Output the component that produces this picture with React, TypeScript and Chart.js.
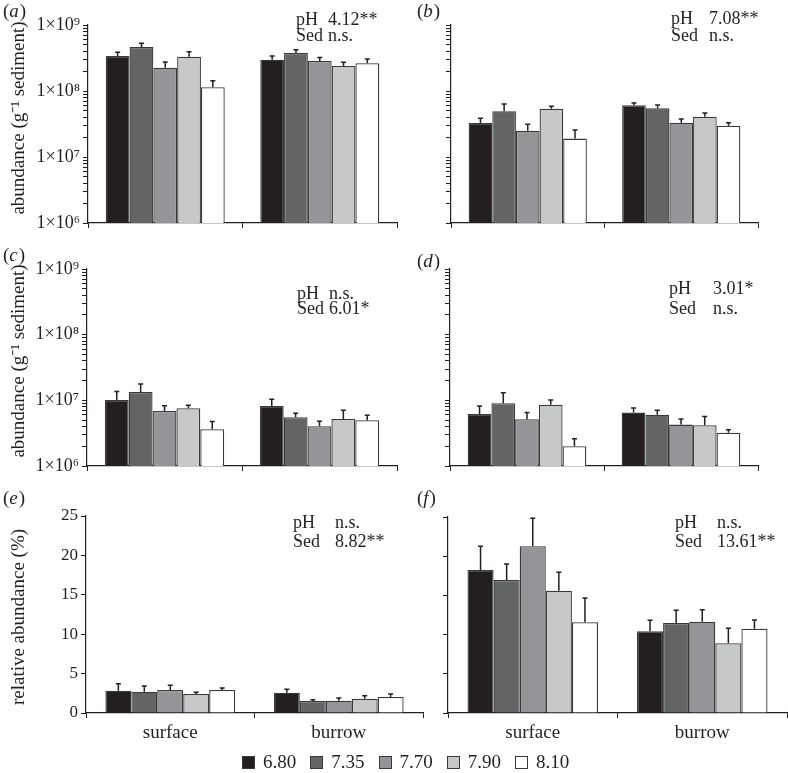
import React, { useEffect, useRef } from 'react';
import { Chart, registerables } from 'chart.js';

Chart.register(...registerables);

const FONT = '"Liberation Serif", "Times New Roman", serif';
const INK = '#231f20';

// ---------- data ----------
const categories = ['surface', 'burrow'];
const phLevels = ['6.80', '7.35', '7.70', '7.90', '8.10'];
const seriesColors = ['#231f20', '#636466', '#939598', '#c7c8ca', '#ffffff'];
const factors = ['pH', 'Sed'];

// (a) abundance, log scale (values per pH level)
const aSurface = [3.4e8, 4.64e8, 2.26e8, 3.3e8, 1.14e8];
const aBurrow = [2.98e8, 3.77e8, 2.85e8, 2.39e8, 2.63e8];
const aSurfaceSE = [0.46e8, 0.63e8, 0.49e8, 0.64e8, 0.29e8];
const aBurrowSE = [0.42e8, 0.45e8, 0.38e8, 0.33e8, 0.42e8];
const aStats = ['4.12**', 'n.s.'];

// (b)
const bSurface = [3.27e7, 4.92e7, 2.5e7, 5.4e7, 1.9e7];
const bBurrow = [6.07e7, 5.46e7, 3.31e7, 4.08e7, 2.98e7];
const bSurfaceSE = [0.59e7, 1.43e7, 0.63e7, 0.46e7, 0.66e7];
const bBurrowSE = [0.53e7, 0.68e7, 0.46e7, 0.56e7, 0.33e7];
const bStats = ['7.08**', 'n.s.'];

// (c)
const cSurface = [1.01e7, 1.34e7, 6.9e6, 7.59e6, 3.63e6];
const cBurrow = [8.2e6, 5.53e6, 4.03e6, 5.21e6, 4.98e6];
const cSurfaceSE = [3.5e6, 4.4e6, 1.4e6, 0.81e6, 1.11e6];
const cBurrowSE = [2.2e6, 0.84e6, 0.78e6, 1.86e6, 0.95e6];
const cStats = ['n.s.', '6.01*'];

// (d)
const dSurface = [6.2e6, 9.04e6, 5.15e6, 8.6e6, 2.0e6];
const dBurrow = [6.5e6, 6.05e6, 4.27e6, 4.18e6, 3.22e6];
const dSurfaceSE = [2.0e6, 4.06e6, 1.35e6, 1.5e6, 0.61e6];
const dBurrowSE = [1.16e6, 1.02e6, 0.94e6, 1.47e6, 0.33e6];
const dStats = ['3.01*', 'n.s.'];

// (e) relative abundance (%)
const eSurface = [2.83, 2.7, 2.92, 2.41, 2.92];
const eBurrow = [2.58, 1.52, 1.56, 1.82, 2.03];
const eSurfaceSE = [0.89, 0.73, 0.59, 0.22, 0.25];
const eBurrowSE = [0.42, 0.17, 0.34, 0.38, 0.38];
const eStats = ['n.s.', '8.82**'];

// (f)
const fSurface = [18.24, 16.96, 21.26, 15.6, 11.57];
const fBurrow = [10.42, 11.48, 11.65, 8.89, 10.75];
const fSurfaceSE = [3.02, 2.04, 3.57, 2.35, 3.1];
const fBurrowSE = [1.4, 1.62, 1.53, 1.91, 1.11];
const fStats = ['n.s.', '13.61**'];

const logMin = 1e6;
const logMax = 1e9;
const pctMin = 0;
const pctMax = 25;
const pctStep = 5;

const abundanceTitle = 'abundance (g\u207B\u00B9 sediment)';
const relativeTitle = 'relative abundance (%)';

// ---------- layout ----------
type Panel = {
  label: string;
  left: number; top: number; width: number; height: number;
  plotLeft: number; plotTop: number; rightPad: number; xAxisHeight: number;
  log: boolean; yLabels: boolean; xLabels: boolean;
  surface: number[]; burrow: number[]; surfaceSE: number[]; burrowSE: number[];
  stats: string[];
  statX: [number, number]; statY: [number, number];
  labelPos: [number, number];
  yTitle?: string; yTitlePos?: [number, number];
};

const panels: Panel[] = [
  {
    label: 'a', left: 0, top: 0, width: 400, height: 240,
    plotLeft: 88, plotTop: 25, rightPad: 3, xAxisHeight: 17,
    log: true, yLabels: true, xLabels: false,
    surface: aSurface, burrow: aBurrow, surfaceSE: aSurfaceSE, burrowSE: aBurrowSE,
    stats: aStats, statX: [296, 328], statY: [25, 41], labelPos: [3, 17],
    yTitle: abundanceTitle, yTitlePos: [19, 118],
  },
  {
    label: 'b', left: 400, top: 0, width: 388, height: 240,
    plotLeft: 51, plotTop: 25, rightPad: 30, xAxisHeight: 17,
    log: true, yLabels: false, xLabels: false,
    surface: bSurface, burrow: bBurrow, surfaceSE: bSurfaceSE, burrowSE: bBurrowSE,
    stats: bStats, statX: [271, 309], statY: [24, 41], labelPos: [17, 17],
  },
  {
    label: 'c', left: 0, top: 240, width: 400, height: 240,
    plotLeft: 87, plotTop: 29, rightPad: 3, xAxisHeight: 14,
    log: true, yLabels: true, xLabels: false,
    surface: cSurface, burrow: cBurrow, surfaceSE: cSurfaceSE, burrowSE: cBurrowSE,
    stats: cStats, statX: [297, 329], statY: [59, 74], labelPos: [3, 21],
    yTitle: abundanceTitle, yTitlePos: [19, 121],
  },
  {
    label: 'd', left: 400, top: 240, width: 388, height: 240,
    plotLeft: 50, plotTop: 29, rightPad: 30, xAxisHeight: 14,
    log: true, yLabels: false, xLabels: false,
    surface: dSurface, burrow: dBurrow, surfaceSE: dSurfaceSE, burrowSE: dBurrowSE,
    stats: dStats, statX: [269, 313], statY: [54, 74], labelPos: [17, 27],
  },
  {
    label: 'e', left: 0, top: 480, width: 440, height: 293,
    plotLeft: 86, plotTop: 36, rightPad: 17, xAxisHeight: 60,
    log: false, yLabels: true, xLabels: true,
    surface: eSurface, burrow: eBurrow, surfaceSE: eSurfaceSE, burrowSE: eBurrowSE,
    stats: eStats, statX: [293, 335], statY: [48, 67], labelPos: [3, 24],
    yTitle: relativeTitle, yTitlePos: [19, 137],
  },
  {
    label: 'f', left: 400, top: 480, width: 388, height: 293,
    plotLeft: 48, plotTop: 37, rightPad: 1, xAxisHeight: 60,
    log: false, yLabels: false, xLabels: true,
    surface: fSurface, burrow: fBurrow, surfaceSE: fSurfaceSE, burrowSE: fBurrowSE,
    stats: fStats, statX: [275, 317], statY: [48, 67], labelPos: [17, 24],
  },
];

const SUP = '\u2070\u00B9\u00B2\u00B3\u2074\u2075\u2076\u2077\u2078\u2079';

function errorBarsPlugin(se: number[][]) {
  return {
    id: 'errorBars',
    afterDatasetsDraw(chart: any) {
      const ctx = chart.ctx;
      const yScale = chart.scales.y;
      ctx.save();
      ctx.strokeStyle = INK;
      ctx.lineWidth = 1.5;
      chart.data.datasets.forEach((ds: any, i: number) => {
        const meta = chart.getDatasetMeta(i);
        meta.data.forEach((bar: any, j: number) => {
          const v = ds.data[j] as number;
          const top = yScale.getPixelForValue(v + se[i][j]);
          ctx.beginPath();
          ctx.moveTo(bar.x, bar.y);
          ctx.lineTo(bar.x, top);
          ctx.moveTo(bar.x - 2.5, top);
          ctx.lineTo(bar.x + 2.5, top);
          ctx.stroke();
        });
      });
      ctx.restore();
    },
  };
}

function textPlugin(p: Panel) {
  return {
    id: 'panelText',
    afterDraw(chart: any) {
      const ctx = chart.ctx;
      ctx.save();
      ctx.fillStyle = INK;
      ctx.textAlign = 'left';
      ctx.textBaseline = 'alphabetic';
      const [lx, ly] = p.labelPos;
      ctx.font = `19px ${FONT}`;
      ctx.fillText('(', lx, ly);
      let x = lx + ctx.measureText('(').width;
      ctx.font = `italic 19px ${FONT}`;
      ctx.fillText(p.label, x, ly);
      x += ctx.measureText(p.label).width + 1;
      ctx.font = `19px ${FONT}`;
      ctx.fillText(')', x, ly);
      ctx.font = `18px ${FONT}`;
      factors.forEach((f, i) => {
        ctx.fillText(f, p.statX[0], p.statY[i]);
        ctx.fillText(p.stats[i], p.statX[1], p.statY[i]);
      });
      if (p.yTitle && p.yTitlePos) {
        ctx.font = `19px ${FONT}`;
        ctx.translate(p.yTitlePos[0], p.yTitlePos[1]);
        ctx.rotate(-Math.PI / 2);
        ctx.textAlign = 'center';
        ctx.textBaseline = 'middle';
        ctx.fillText(p.yTitle, 0, 0);
      }
      ctx.restore();
    },
  };
}

function PanelChart({ p }: { p: Panel }) {
  const ref = useRef<HTMLCanvasElement | null>(null);
  useEffect(() => {
    if (!ref.current) return;
    const se = phLevels.map((_, i) => [p.surfaceSE[i], p.burrowSE[i]]);
    const datasets = phLevels.map((ph, i) => ({
      label: ph,
      data: [p.surface[i], p.burrow[i]],
      backgroundColor: seriesColors[i],
      borderColor: '#3a3a3a',
      borderWidth: 1.3,
      barPercentage: 1,
      categoryPercentage: 0.77,
    }));
    const axisCommon = {
      grid: {
        display: true,
        drawOnChartArea: false,
        drawTicks: true,
        tickLength: 5,
        tickColor: INK,
        tickWidth: 1,
      },
      border: { display: true, color: INK, width: 1.2 },
    };
    const yScale: any = p.log
      ? {
          type: 'logarithmic',
          min: logMin,
          max: logMax,
          ...axisCommon,
          afterBuildTicks: (scale: any) => {
            scale.ticks = scale.ticks.filter((t: any) => {
              const e = Math.floor(Math.log10(t.value) + 1e-9);
              const m = t.value / Math.pow(10, e);
              return Math.abs(m - Math.round(m)) < 1e-6;
            });
          },
          ticks: {
            autoSkip: false,
            color: INK,
            padding: 3,
            font: { family: FONT, size: 18 },
            callback: (value: any) => {
              if (!p.yLabels) return '';
              const v = Number(value);
              const e = Math.round(Math.log10(v));
              if (Math.abs(v - Math.pow(10, e)) / v < 1e-6) return '1\u00D710' + SUP[e];
              return '';
            },
          },
          afterFit: (scale: any) => { scale.width = p.plotLeft; },
        }
      : {
          type: 'linear',
          min: pctMin,
          max: pctMax,
          ...axisCommon,
          ticks: {
            stepSize: pctStep,
            autoSkip: false,
            color: INK,
            padding: 3,
            font: { family: FONT, size: 17 },
            callback: (value: any) => (p.yLabels ? String(value) : ''),
          },
          afterFit: (scale: any) => { scale.width = p.plotLeft; },
        };
    const chart = new Chart(ref.current, {
      type: 'bar',
      data: { labels: categories, datasets },
      options: {
        responsive: false,
        maintainAspectRatio: false,
        animation: false,
        events: [],
        layout: { padding: { left: 0, top: p.plotTop, right: p.rightPad, bottom: 0 } },
        plugins: { legend: { display: false }, tooltip: { enabled: false } },
        scales: {
          x: {
            type: 'category',
            offset: true,
            ...axisCommon,
            grid: { ...axisCommon.grid, offset: true },
            ticks: {
              color: INK,
              padding: 4,
              font: { family: FONT, size: 19 },
              callback: (_v: any, i: number) => (p.xLabels ? categories[i] : ''),
            },
            afterFit: (scale: any) => { scale.height = p.xAxisHeight; },
          },
          y: yScale,
        },
      } as any,
      plugins: [errorBarsPlugin(se), textPlugin(p)] as any,
    });
    return () => chart.destroy();
  }, [p]);
  return (
    <div style={{ position: 'absolute', left: p.left, top: p.top, width: p.width, height: p.height }}>
      <canvas ref={ref} width={p.width} height={p.height} style={{ width: p.width, height: p.height, display: 'block' }} />
    </div>
  );
}

export default function App() {
  return (
    <div
      style={{
        position: 'absolute',
        left: 0,
        top: 0,
        width: 788,
        height: 773,
        background: '#ffffff',
        overflow: 'hidden',
        fontFamily: FONT,
      }}
    >
      {panels.map((p) => (
        <PanelChart key={p.label} p={p} />
      ))}
      <div
        style={{
          position: 'absolute',
          left: 242,
          top: 752,
          height: 20,
          display: 'flex',
          alignItems: 'center',
          zIndex: 2,
        }}
      >
        {phLevels.map((ph, i) => (
          <div key={ph} style={{ display: 'flex', alignItems: 'center', marginRight: 14 }}>
            <div
              style={{
                width: 13,
                height: 13,
                boxSizing: 'border-box',
                border: '1px solid #3a3a3a',
                background: seriesColors[i],
                marginRight: 8,
              }}
            />
            <span style={{ fontSize: 19, color: INK, lineHeight: '20px' }}>{ph}</span>
          </div>
        ))}
      </div>
    </div>
  );
}
